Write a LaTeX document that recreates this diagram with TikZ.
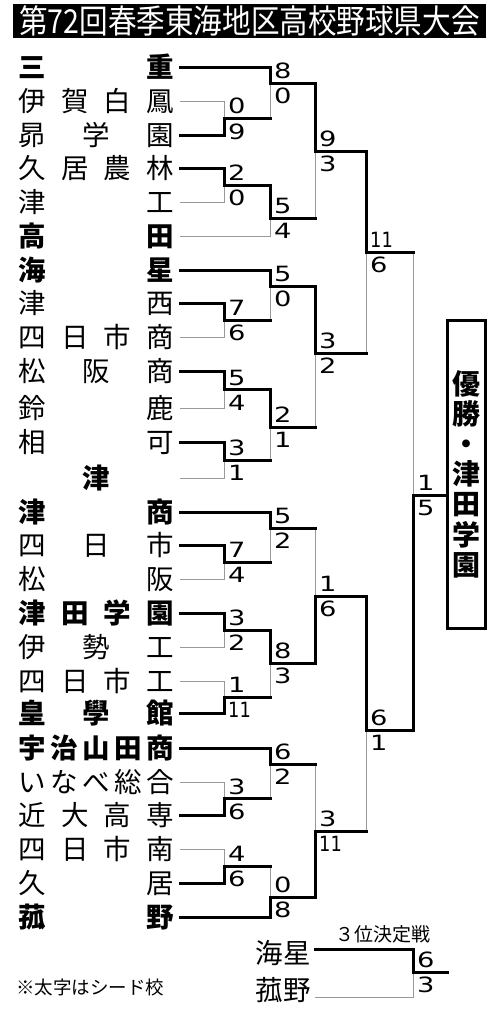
\documentclass[tikz,border=0pt]{standalone}
\usepackage{fontspec}
\usepackage{graphicx}
\setmainfont{Noto Sans CJK JP}
\newfontfamily\digf{DejaVu Sans}
\newcommand\sd[1]{\scalebox{1.3}[1]{#1}}
\newcommand\sdn[1]{\scalebox{0.85}[1]{#1}}
\newcommand\nm[1]{\makebox[156pt][l]{#1}}
\begin{document}
\begin{tikzpicture}[x=1pt,y=-1pt,
  win/.style={line width=3pt, line cap=rect, black},
  lose/.style={line width=1pt, black!40},
  score/.style={font=\digf\fontsize{21}{21}\selectfont, inner sep=0pt},
  team/.style={anchor=west, inner sep=0pt, font=\fontsize{27.5}{28}\selectfont},
  seed/.style={team, font=\fontsize{27.5}{28}\selectfont\bfseries},
]
\useasboundingbox (0,0) rectangle (500,1012);

% title
\node[fill=black, minimum width=473pt, minimum height=34pt, inner sep=0pt, text=white,
  font=\fontsize{33}{33}\selectfont] (title) at (249.5,21)
  {\scalebox{0.866}[1]{第72回春季東海地区高校野球県大会}};

% team names
\node[seed] (n0)  at (18,67)   {\nm{三\hfill 重}};
\node[team] (n1)  at (18,101.5){\nm{伊\hfill 賀\hfill 白\hfill 鳳}};
\node[team] (n2)  at (18,135)  {\nm{昴\hfill 学\hfill 園}};
\node[team] (n3)  at (18,168)  {\nm{久\hfill 居\hfill 農\hfill 林}};
\node[team] (n4)  at (18,202)  {\nm{津\hfill 工}};
\node[seed] (n5)  at (18,236.5){\nm{高\hfill 田}};
\node[seed] (n6)  at (18,270)  {\nm{海\hfill 星}};
\node[team] (n7)  at (18,303)  {\nm{津\hfill 西}};
\node[team] (n8)  at (18,337)  {\nm{四\hfill 日\hfill 市\hfill 商}};
\node[team] (n9)  at (18,371.5){\nm{松\hfill 阪\hfill 商}};
\node[team] (n10) at (18,408)  {\nm{鈴\hfill 鹿}};
\node[team] (n11) at (18,442)  {\nm{相\hfill 可}};
\node[seed] (n12) at (18,478)  {\nm{\hfill 津\hfill}};
\node[seed] (n13) at (18,512)  {\nm{津\hfill 商}};
\node[team] (n14) at (18,545)  {\nm{四\hfill 日\hfill 市}};
\node[team] (n15) at (18,579)  {\nm{松\hfill 阪}};
\node[seed] (n16) at (18,613)  {\nm{津\hfill 田\hfill 学\hfill 園}};
\node[team] (n17) at (18,647)  {\nm{伊\hfill 勢\hfill 工}};
\node[team] (n18) at (18,681)  {\nm{四\hfill 日\hfill 市\hfill 工}};
\node[seed] (n19) at (18,713)  {\nm{皇\hfill 學\hfill 館}};
\node[seed] (n20) at (18,748)  {\nm{宇\hfill 治\hfill 山\hfill 田\hfill 商}};
\node[team] (n21) at (18,782)  {\nm{い\hfill な\hfill べ\hfill 総\hfill 合}};
\node[team] (n22) at (18,815)  {\nm{近\hfill 大\hfill 高\hfill 専}};
\node[team] (n23) at (18,849)  {\nm{四\hfill 日\hfill 市\hfill 南}};
\node[team] (n24) at (18,883)  {\nm{久\hfill 居}};
\node[seed] (n25) at (18,917)  {\nm{菰\hfill 野}};

% line start points
\foreach \i in {0,...,25} \coordinate (r\i) at ([xshift=6pt]n\i.east);

% junctions
\coordinate (R1a) at (224,118.25);
\coordinate (R1b) at (224,185);
\coordinate (R1c) at (224,320);
\coordinate (R1d) at (224,389.75);
\coordinate (R1e) at (224,460);
\coordinate (R1f) at (224,562);
\coordinate (R1g) at (224,630);
\coordinate (R1h) at (224,697);
\coordinate (R1i) at (224,798.5);
\coordinate (R1j) at (224,866);
\coordinate (R2a) at (270,83);
\coordinate (R2b) at (270,218);
\coordinate (R2c) at (270,286);
\coordinate (R2d) at (270,427);
\coordinate (R2e) at (270,528);
\coordinate (R2f) at (270,663);
\coordinate (R2g) at (270,764);
\coordinate (R2h) at (270,897);
\coordinate (R3a) at (315,151);
\coordinate (R3b) at (315,353);
\coordinate (R3c) at (315,596);
\coordinate (R3d) at (315,831);
\coordinate (R4a) at (366,252);
\coordinate (R4b) at (366,730);
\coordinate (F)   at (413,495);

% champion box
\node[draw, line width=3pt, minimum width=38pt, minimum height=308pt, inner sep=0pt,
  align=center, font=\fontsize{28}{30.2}\selectfont\bfseries] (champ) at (466,474)
  {優\\勝\\・\\津\\田\\学\\園};

% losing (thin) lines
\foreach \a/\m in {r1/R1a, r4/R1b, r8/R1c, r10/R1d, r12/R1e, r15/R1f, r17/R1g,
  r18/R1h, r21/R1i, r23/R1j, r5/R2b}
  \draw[lose] (\a) -| (\m);
\foreach \m/\n in {R1a/R2a, R1c/R2c, R1e/R2d, R1f/R2e, R1h/R2f, R1i/R2g, R1j/R2h,
  R2b/R3a, R2d/R3b, R2e/R3c, R2g/R3d, R3b/R4a, R3d/R4b, R4a/F}
  \draw[lose] (\m -| \n) -- (\n);

% winning (thick) lines
\foreach \a/\m in {r2/R1a, r3/R1b, r7/R1c, r9/R1d, r11/R1e, r14/R1f, r16/R1g,
  r19/R1h, r22/R1i, r24/R1j, r0/R2a, r6/R2c, r13/R2e, r20/R2g, r25/R2h}
  \draw[win] (\a) -| (\m);
\foreach \m/\n in {R1a/R2a, R1b/R2b, R1c/R2c, R1d/R2d, R1e/R2d, R1f/R2e, R1g/R2f,
  R1h/R2f, R1i/R2g, R1j/R2h, R2a/R3a, R2b/R3a, R2c/R3b, R2d/R3b, R2e/R3c, R2f/R3c,
  R2g/R3d, R2h/R3d, R3a/R4a, R3b/R4a, R3c/R4b, R3d/R4b, R4a/F, R4b/F}
  \draw[win] (\m) -- (\m -| \n);
\foreach \m/\n in {R1b/R2b, R1d/R2d, R1g/R2f, R2a/R3a, R2c/R3b, R2f/R3c, R2h/R3d,
  R3a/R4a, R3c/R4b, R4b/F}
  \draw[win] (\m -| \n) -- (\n);
\draw[win] (F) -- (F -| champ.west);

% scores
\foreach \m/\u/\l in {R1a/\sd{0}/\sd{9}, R1b/\sd{2}/\sd{0}, R1c/\sd{7}/\sd{6},
  R1d/\sd{5}/\sd{4}, R1e/\sd{3}/\sd{1}, R1f/\sd{7}/\sd{4}, R1g/\sd{3}/\sd{2},
  R1h/\sd{1}/\sdn{11}, R1i/\sd{3}/\sd{6}, R1j/\sd{4}/\sd{6},
  R2a/\sd{8}/\sd{0}, R2b/\sd{5}/\sd{4}, R2c/\sd{5}/\sd{0}, R2d/\sd{2}/\sd{1},
  R2e/\sd{5}/\sd{2}, R2f/\sd{8}/\sd{3}, R2g/\sd{6}/\sd{2}, R2h/\sd{0}/\sd{8},
  R3a/\sd{9}/\sd{3}, R3b/\sd{3}/\sd{2}, R3c/\sd{1}/\sd{6}, R3d/\sd{3}/\sdn{11},
  R4a/\sdn{11}/\sd{6}, R4b/\sd{6}/\sd{1}, F/\sd{1}/\sd{5}} {
  \node[score, anchor=south west] (\m-u) at ([xshift=4pt,yshift=4pt]\m) {\u};
  \node[score, anchor=north west] (\m-l) at ([xshift=4pt,yshift=-5pt]\m) {\l};
}

% third place match
\node[font=\fontsize{19}{19}\selectfont, inner sep=0pt] (tp) at (383,934) {３位決定戦};
\node[team, anchor=east] (k1) at (311,953) {海星};
\node[team, anchor=east] (k2) at (311,990) {菰野};
\coordinate (t1) at (315,949);
\coordinate (t2) at (315,997);
\coordinate (T) at (413,972);
\coordinate (Tend) at (447,972);
\draw[lose] (t2) -| (T);
\draw[win] (t1) -| (T) -- (Tend);
\node[score, anchor=south west] (T-u) at ([xshift=4pt,yshift=4pt]T) {\sd{6}};
\node[score, anchor=north west] (T-l) at ([xshift=4pt,yshift=-5pt]T) {\sd{3}};

% footnote
\node[anchor=west, inner sep=0pt, font=\fontsize{18.5}{19}\selectfont] (note) at (16,987) {※太字はシード校};
\end{tikzpicture}
\end{document}
